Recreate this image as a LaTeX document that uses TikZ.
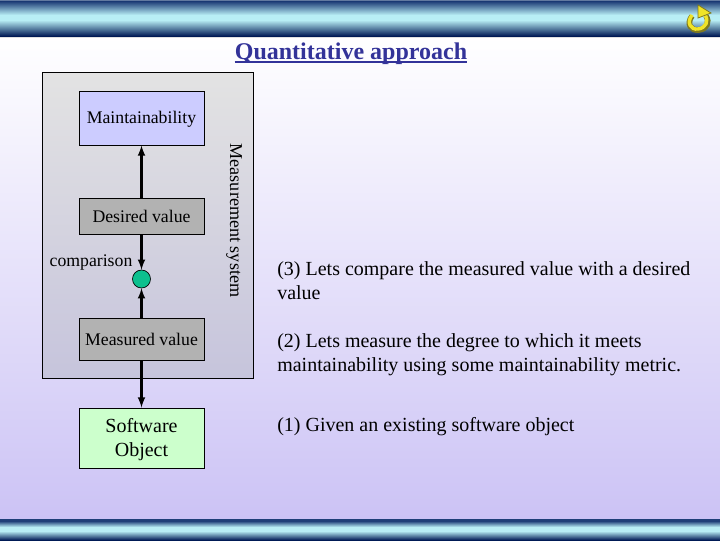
\documentclass[tikz,border=0pt]{standalone}
\usepackage{fontspec}
\setmainfont{Liberation Serif}
\usetikzlibrary{arrows}
\definecolor{barlight}{HTML}{B8EEF5}
\definecolor{bardark}{HTML}{001A55}
\definecolor{barmid}{HTML}{1F3F78}
\definecolor{lilac}{HTML}{CCC3F5}
\definecolor{titleblue}{HTML}{333399}
\definecolor{panelbottom}{HTML}{C6C4DC}
\definecolor{panelbox}{HTML}{B2B2B2}
\definecolor{cmpgreen}{HTML}{0CC08E}
\definecolor{iconyellow}{HTML}{F0E428}
\definecolor{iconshade}{HTML}{7F7A20}
\tikzset{
	box/.style={draw=black,line width=0.75pt,minimum width=93.75pt,inner sep=0pt,align=center,font=\fontsize{13.3}{17}\selectfont},
	flow/.style={line width=1.6pt,-latex},
	note/.style={anchor=north west,align=flush left,text width=317pt,inner sep=0pt,font=\fontsize{15}{18}\selectfont},
}
\begin{document}
\begin{tikzpicture}[line cap=butt,line join=miter,x=0.75pt,y=-0.75pt]
	\useasboundingbox (0,0) rectangle (720,540);
	% backdrop and bars
	\shade[top color=white,bottom color=lilac] (0,36) rectangle (720,519);
	\fill[black!12] (0,36) rectangle (720,38);
	\fill[barmid!70] (0,0) rectangle (720,1.5);
	\shade[top color=barmid,bottom color=barlight] (0,1.5) rectangle (720,15);
	\fill[barlight] (0,15) rectangle (720,20);
	\shade[top color=barlight,bottom color=bardark] (0,20) rectangle (720,36);
	\fill[barmid] (0,519) rectangle (720,521);
	\shade[top color=barmid,bottom color=barlight] (0,521) rectangle (720,527);
	\fill[barlight] (0,527) rectangle (720,531);
	\shade[top color=barlight,bottom color=bardark] (0,531) rectangle (720,540);
	% yellow icon
	\draw[iconshade,line width=4.2pt] (692,16) .. controls (686,24) and (691,31) .. (699,30) .. controls (707,29) and (710,22) .. (706,16);
	\draw[iconyellow,line width=2.6pt] (692,15) .. controls (686,23) and (691,30) .. (698,29) .. controls (706,28) and (709,21) .. (705,15);
	\fill[iconyellow,draw=iconshade,line width=0.6pt] (698,5) -- (711,13) -- (698,18) -- cycle;
	% title
	\node[titleblue,anchor=base,inner xsep=0pt,font=\bfseries\fontsize{18}{22}\selectfont] (title) at (351,59) {Quantitative approach};
	\draw[titleblue,line width=1pt] ([yshift=-2.2pt]title.base west) -- ([yshift=-2.2pt]title.base east);
	% measurement system
	\node[draw=black,line width=0.75pt,minimum width=158.25pt,minimum height=229.5pt,inner sep=0pt,top color=black!11,bottom color=panelbottom] (msys) at (147.5,225) {};
	\node[rotate=-90,font=\fontsize{13.6}{15}\selectfont] (msyslabel) at (234,220.5) {Measurement system};
	% boxes
	\node[box,fill=blue!20,minimum height=40.5pt,text height=11pt] (maint) at (141.5,118) {Maintainability};
	\node[box,fill=panelbox,minimum height=27pt] (desired) at (141.5,216) {Desired value};
	\node[box,fill=panelbox,minimum height=31.5pt] (measured) at (141.5,339.5) {Measured value};
	\node[box,fill=green!20,minimum height=45pt,font=\fontsize{15}{18}\selectfont] (software) at (141.5,438) {\rule{0pt}{13pt}Software\\Object};
	\node[circle,draw=black,line width=0.5pt,fill=cmpgreen,minimum size=13.5pt,inner sep=0pt] (cmp) at (141.5,279) {};
	\node[font=\fontsize{13.3}{15}\selectfont] (cmplabel) at (91,262.5) {comparison};
	% connectors
	\draw[flow] (desired) -- (maint);
	\draw[flow] (desired) -- (cmp);
	\draw[flow] (measured) -- (cmp);
	\draw[flow] (measured) -- (software);
	% notes
	\node[note] (note3) at (277,261) {(3) Lets compare the measured value with a desired value};
	\node[note] (note2) at (277,333) {(2) Lets measure the degree to which it meets maintainability using some maintainability metric.};
	\node[note] (note1) at (277,417) {(1) Given an existing software object};
\end{tikzpicture}
\end{document}
